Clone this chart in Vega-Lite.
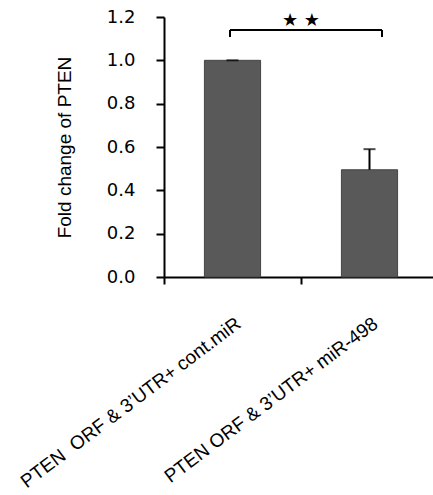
{
  "$schema": "https://vega.github.io/schema/vega-lite/v6.json",
  "autosize": "none",
  "width": 269,
  "height": 260,
  "padding": {"left": 164, "top": 17, "right": 0, "bottom": 218},
  "background": "white",
  "config": {"view": {"stroke": null}},
  "datasets": {
    "bars": [
      {"group": "PTEN\u00a0 ORF & 3’UTR+ cont.miR", "fold": 1.0, "upper": 1.0},
      {"group": "PTEN ORF & 3’UTR+ miR-498", "fold": 0.495, "upper": 0.59}
    ],
    "bracket": [
      {"a": "PTEN\u00a0 ORF & 3’UTR+ cont.miR", "b": "PTEN ORF & 3’UTR+ miR-498", "y": 1.14, "ylow": 1.108, "ystar": 1.182, "label": "★ ★"}
    ]
  },
  "layer": [
    {
      "data": {"name": "bars"},
      "mark": {"type": "bar", "width": {"band": 0.41}, "color": "#595959", "stroke": "#454545", "strokeWidth": 1},
      "encoding": {
        "x": {
          "field": "group", "type": "nominal", "sort": null,
          "scale": {"type": "band", "domain": ["PTEN\u00a0 ORF & 3’UTR+ cont.miR", "PTEN ORF & 3’UTR+ miR-498"], "range": [0, 274], "paddingInner": 0, "paddingOuter": 0},
          "axis": {
            "title": null, "bandPosition": 0, "labelOffset": 6, "labelAngle": -37,
            "labelAlign": "right", "labelBaseline": "middle", "labelPadding": 37,
            "labelFont": "Liberation Sans", "labelFontSize": 19, "labelColor": "black",
            "domainColor": "black", "domainWidth": 2, "tickColor": "black", "tickWidth": 2, "tickSize": 7,
            "labelLimit": 400
          }
        },
        "y": {
          "field": "fold", "type": "quantitative",
          "scale": {"domain": [0, 1.2], "nice": false},
          "axis": {
            "title": "Fold change of PTEN", "values": [0, 0.2, 0.4, 0.6, 0.8, 1.0, 1.2], "format": ".1f",
            "grid": false, "labelFont": "DejaVu Sans", "labelFontSize": 18, "labelColor": "black",
            "labelPadding": 21, "tickSize": 8, "tickWidth": 2, "tickColor": "black",
            "domainColor": "black", "domainWidth": 2,
            "titleFont": "Liberation Sans", "titleFontSize": 19, "titleFontWeight": "normal", "titleColor": "black",
            "titlePadding": 32
          }
        }
      }
    },
    {
      "data": {"name": "bars"},
      "mark": {"type": "rule", "color": "black", "strokeWidth": 2},
      "encoding": {
        "x": {"field": "group", "type": "nominal", "sort": null},
        "y": {"field": "fold", "type": "quantitative"},
        "y2": {"field": "upper"}
      }
    },
    {
      "data": {"name": "bars"},
      "mark": {"type": "tick", "orient": "horizontal", "color": "black", "size": 12, "thickness": 2},
      "encoding": {
        "x": {"field": "group", "type": "nominal", "sort": null},
        "y": {"field": "upper", "type": "quantitative"}
      }
    },
    {
      "data": {"name": "bracket"},
      "mark": {"type": "rule", "color": "black", "strokeWidth": 2, "xOffset": -2.5, "x2Offset": 12.5},
      "encoding": {
        "x": {"field": "a", "type": "nominal"},
        "x2": {"field": "b"},
        "y": {"field": "y", "type": "quantitative"}
      }
    },
    {
      "data": {"name": "bracket"},
      "mark": {"type": "rule", "color": "black", "strokeWidth": 2, "xOffset": -2.5},
      "encoding": {
        "x": {"field": "a", "type": "nominal"},
        "y": {"field": "ylow", "type": "quantitative"},
        "y2": {"field": "y"}
      }
    },
    {
      "data": {"name": "bracket"},
      "mark": {"type": "rule", "color": "black", "strokeWidth": 2, "xOffset": 12.5},
      "encoding": {
        "x": {"field": "b", "type": "nominal"},
        "y": {"field": "ylow", "type": "quantitative"},
        "y2": {"field": "y"}
      }
    },
    {
      "data": {"name": "bracket"},
      "mark": {"type": "text", "font": "DejaVu Sans", "fontSize": 18, "color": "black", "baseline": "middle", "align": "center"},
      "encoding": {
        "x": {"field": "a", "type": "nominal", "bandPosition": 1},
        "y": {"field": "ystar", "type": "quantitative"},
        "text": {"field": "label"}
      }
    }
  ]
}
